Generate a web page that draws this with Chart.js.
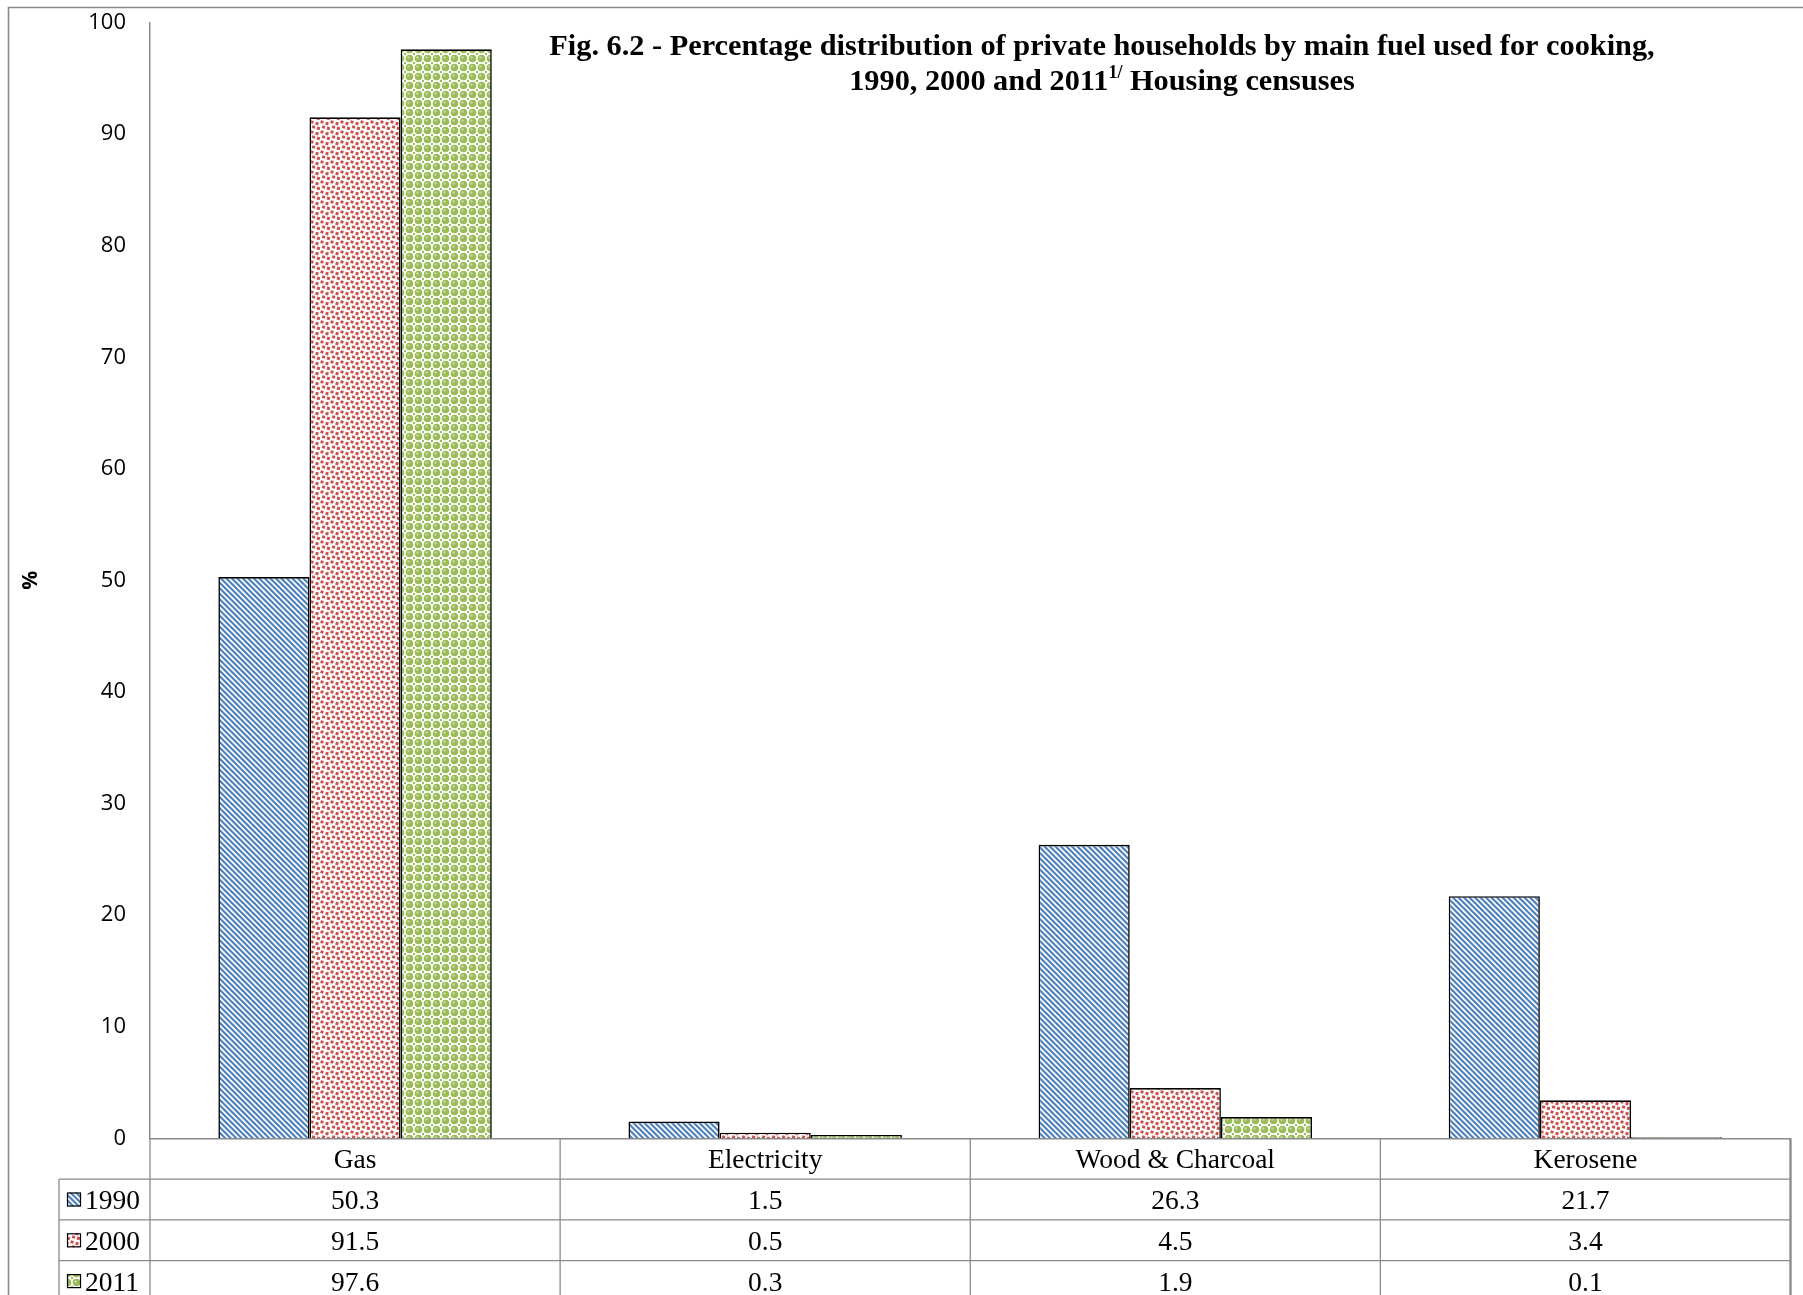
<!DOCTYPE html>
<html>
<head>
<meta charset="utf-8">
<script src="https://cdn.jsdelivr.net/npm/chart.js@4.4.1/dist/chart.umd.min.js"></script>
<style>
  html, body { margin: 0; padding: 0; background: #ffffff; }
  #wrap { position: relative; width: 1803px; height: 1295px; }
</style>
</head>
<body>
<div id="wrap"><canvas id="chart"></canvas></div>
<script>
// ---- data ----
const categories = ['Gas', 'Electricity', 'Wood & Charcoal', 'Kerosene'];
const seriesLabels = ['1990', '2000', '2011'];
const values1990 = [50.3, 1.5, 26.3, 21.7];
const values2000 = [91.5, 0.5, 4.5, 3.4];
const values2011 = [97.6, 0.3, 1.9, 0.1];
const yMin = 0;
const yMax = 100;
const yStep = 10;
const titleLine1 = 'Fig. 6.2 - Percentage distribution of private households by main fuel used for cooking,';
const titleLine2a = '1990, 2000 and 2011';
const titleLine2sup = '1/';
const titleLine2b = ' Housing censuses';
const yTitle = '%';

// ---- fill patterns ----
function makeTile(size, draw) {
  const c = document.createElement('canvas');
  c.width = size; c.height = size;
  const g = c.getContext('2d');
  g.fillStyle = '#ffffff';
  g.fillRect(0, 0, size, size);
  draw(g, size);
  return c;
}
// wide downward diagonal stripes
const stripeTile = makeTile(11, (g, s) => {
  g.strokeStyle = '#4f81bd';
  g.lineWidth = 2.2;
  for (let k = -6; k <= 6; k++) {
    const o = k * 5.5;
    g.beginPath();
    g.moveTo(o - 2, -2);
    g.lineTo(o + s + 2, s + 2);
    g.stroke();
  }
});
// small confetti squares
const dotTile = makeTile(10, (g) => {
  g.fillStyle = '#c8504d';
  const pts = [[2, 2], [7, 3.6], [3.6, 7], [8.4, 8.4]];
  for (const [px, py] of pts) {
    g.save();
    g.translate(px, py);
    g.rotate(0.25);
    g.fillRect(-1.5, -1.5, 3, 3);
    g.restore();
  }
});
// spheres
const sphereTile = makeTile(9, (g) => {
  g.fillStyle = '#9bbb59';
  g.beginPath(); g.arc(4.5, 4.5, 3.8, 0, Math.PI * 2); g.fill();
  for (const [cx, cy] of [[0, 0], [9, 0], [0, 9], [9, 9]]) {
    g.beginPath(); g.arc(cx, cy, 1.2, 0, Math.PI * 2); g.fill();
  }
  g.fillStyle = '#c6d9a3';
  g.beginPath(); g.arc(3.5, 3.5, 1.2, 0, Math.PI * 2); g.fill();
});

const ctx0 = document.getElementById('chart').getContext('2d');
const patterns = [
  ctx0.createPattern(stripeTile, 'repeat'),
  ctx0.createPattern(dotTile, 'repeat'),
  ctx0.createPattern(sphereTile, 'repeat')
];
const seriesValues = [values1990, values2000, values2011];

// ---- layout constants ----
const AXIS_GREY = '#8a8a8a';
const ROW_H = 40.8;
const LEGEND_LEFT = 59;
const SERIF = '"Liberation Serif", "Times New Roman", serif';

// outer frame of the chart object
const framePlugin = {
  id: 'frame',
  beforeDraw(chart) {
    const c = chart.ctx;
    c.save();
    c.fillStyle = '#ffffff';
    c.fillRect(0, 0, chart.width, chart.height);
    c.strokeStyle = AXIS_GREY;
    c.lineWidth = 1.6;
    c.beginPath();
    c.moveTo(8.5, chart.height + 2);
    c.lineTo(8.5, 7.5);
    c.lineTo(chart.width + 2, 7.5);
    c.stroke();
    c.restore();
  }
};

// two-line heading with a superscript note mark
const headingPlugin = {
  id: 'heading',
  afterDraw(chart) {
    const c = chart.ctx;
    const cx = 1102;
    c.save();
    c.fillStyle = '#000000';
    c.textBaseline = 'alphabetic';
    const big = 'bold 30.3px ' + SERIF;
    const small = 'bold 18px ' + SERIF;
    c.font = big;
    c.textAlign = 'center';
    c.fillText(titleLine1, cx, 55);
    c.textAlign = 'left';
    const wA = c.measureText(titleLine2a).width;
    const wB = c.measureText(titleLine2b).width;
    c.font = small;
    const wS = c.measureText(titleLine2sup).width;
    let x = cx - (wA + wS + wB) / 2;
    c.font = big;
    c.fillText(titleLine2a, x, 89.5);
    x += wA;
    c.font = small;
    c.fillText(titleLine2sup, x, 78);
    x += wS;
    c.font = big;
    c.fillText(titleLine2b, x, 89.5);
    c.restore();
  }
};

// data table under the category axis
const tablePlugin = {
  id: 'dataTable',
  afterDraw(chart) {
    const c = chart.ctx;
    const xs = chart.scales.x;
    const area = chart.chartArea;
    const top = area.bottom;
    const bottom = chart.height + 2;
    const n = categories.length;
    const colW = (area.right - area.left) / n;
    c.save();
    c.strokeStyle = AXIS_GREY;
    c.lineWidth = 1.3;
    const seg = (x1, y1, x2, y2) => { c.beginPath(); c.moveTo(x1, y1); c.lineTo(x2, y2); c.stroke(); };
    for (let r = 1; r <= seriesLabels.length; r++) {
      const yy = top + r * ROW_H;
      seg(LEGEND_LEFT, yy, area.right, yy);
    }
    for (let i = 0; i <= n; i++) {
      const xx = xs.getPixelForValue(0) - colW / 2 + i * colW;
      seg(xx, top, xx, bottom);
    }
    c.lineWidth = 2.2;
    seg(area.right, top, area.right, bottom);
    c.lineWidth = 1.3;
    seg(LEGEND_LEFT, top + ROW_H, LEGEND_LEFT, bottom);

    c.fillStyle = '#000000';
    c.font = '27.5px ' + SERIF;
    c.textBaseline = 'alphabetic';
    c.textAlign = 'center';
    categories.forEach((cat, i) => {
      c.fillText(cat, xs.getPixelForValue(i), top + ROW_H / 2 + 9.5);
    });
    seriesLabels.forEach((lab, s) => {
      const rowMid = top + ROW_H * (s + 1) + ROW_H / 2;
      // legend key
      c.fillStyle = patterns[s];
      c.fillRect(67, rowMid - 7, 14, 14);
      c.strokeStyle = '#000000';
      c.lineWidth = 1.2;
      c.strokeRect(67.5, rowMid - 6.5, 13, 13);
      c.fillStyle = '#000000';
      c.textAlign = 'left';
      c.fillText(lab, 85, rowMid + 9.5);
      c.textAlign = 'center';
      seriesValues[s].forEach((v, i) => {
        c.fillText(v.toFixed(1), xs.getPixelForValue(i), rowMid + 9.5);
      });
    });
    c.restore();
  }
};

new Chart(ctx0, {
  type: 'bar',
  data: {
    labels: categories,
    datasets: seriesLabels.map((lab, s) => ({
      label: lab,
      data: seriesValues[s],
      backgroundColor: patterns[s],
      borderColor: '#000000',
      borderWidth: 1.6,
      borderSkipped: 'start',
      categoryPercentage: 0.6667,
      barPercentage: 1.0
    }))
  },
  options: {
    responsive: true,
    maintainAspectRatio: false,
    animation: false,
    layout: { padding: { left: 0, top: 22.5, right: 12.5, bottom: 0 } },
    plugins: {
      legend: { display: false },
      title: { display: false },
      tooltip: { enabled: false }
    },
    scales: {
      x: {
        type: 'category',
        offset: true,
        grid: { display: false, drawTicks: false },
        border: { display: true, color: AXIS_GREY, width: 1.5 },
        ticks: { display: false },
        afterFit(scale) {
          scale.height = 1295 - 1138.3;
          scale.paddingLeft = 0; scale.paddingRight = 0;
        }
      },
      y: {
        min: yMin,
        max: yMax,
        grid: { display: false, drawTicks: false },
        border: { display: true, color: AXIS_GREY, width: 1.5 },
        ticks: {
          stepSize: yStep,
          padding: 24,
          color: '#000000',
          font: { family: '"Open Sans", sans-serif', size: 22 }
        },
        title: {
          display: true,
          text: yTitle,
          color: '#000000',
          font: { family: '"Open Sans", sans-serif', size: 21, weight: 'bold' },
          padding: { top: 18, bottom: 0 }
        },
        afterFit(scale) {
          scale.width = 150;
          scale.paddingTop = 0; scale.paddingBottom = 0;
        }
      }
    }
  },
  plugins: [framePlugin, headingPlugin, tablePlugin]
});
</script>
</body>
</html>
